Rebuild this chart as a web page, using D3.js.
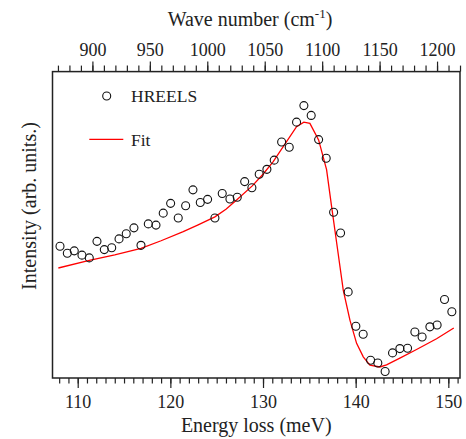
<!DOCTYPE html>
<html>
<head>
<meta charset="utf-8">
<script src="https://cdn.jsdelivr.net/npm/d3@7"></script>
<style>
  body { margin: 0; background: #fff; }
  svg text { font-family: 'Liberation Serif', Tinos, 'Times New Roman', Times, 'DejaVu Serif', serif !important; }
</style>
</head>
<body>
<svg id="chart" width="466" height="439"></svg>
<script>
// HREELS data points (energy loss in meV, intensity in arb. units)
const ENERGY = [108.09, 108.88, 109.63, 110.46, 111.25, 112.08, 112.87, 113.67, 114.46, 115.24,
  116.07, 116.83, 117.62, 118.45, 119.23, 120.03, 120.85, 121.65, 122.44, 123.23,
  124.02, 124.81, 125.60, 126.43, 127.22, 128.02, 128.80, 129.59, 130.42, 131.21,
  132.01, 132.83, 133.62, 134.41, 135.20, 136.00, 136.82, 137.62, 138.37, 139.19,
  140.02, 140.81, 141.61, 142.39, 143.18, 143.98, 144.77, 145.60, 146.39, 147.17,
  148.01, 148.79, 149.59, 150.38]
const INTENSITY = [43.0, 40.7, 41.5, 40.1, 39.2, 44.6, 41.9, 42.5, 45.4, 47.1,
  49.0, 43.3, 50.3, 49.9, 53.8, 57.0, 52.2, 56.2, 61.4, 57.3,
  58.3, 52.2, 60.2, 58.4, 59.0, 64.1, 62.1, 66.5, 68.1, 71.1,
  77.0, 75.3, 83.5, 88.9, 85.7, 77.8, 71.7, 54.1, 47.3, 28.1,
  16.9, 14.3, 5.8, 4.9, 2.1, 8.2, 9.6, 9.7, 15.0, 13.4,
  16.7, 17.3, 25.6, 21.6]

// fit curve
const FIT_ENERGY = [107.91, 111.25, 114.0, 116.83, 119.0, 121.39, 123.0, 124.81, 126.0, 127.15,
  128.84, 130.0, 131.10, 133.62, 134.41, 135.06, 136.00, 136.86, 137.40, 137.94,
  138.66, 139.38, 140.10, 140.82, 141.54, 142.61, 143.33, 144.77, 146.57, 148.73, 150.59]
const FIT_INTENSITY = [35.9, 38.4, 40.2, 42.3, 44.8, 47.8, 50.0, 52.6, 55.1, 58.1,
  62.7, 66.5, 70.6, 82.0, 83.5, 83.1, 77.7, 68.0, 56.0, 44.3,
  28.7, 18.9, 11.3, 6.9, 4.2, 3.6, 4.3, 6.5, 9.3, 12.8, 16.3]

const BOTTOM_TICKS = [110, 120, 130, 140, 150]
const TOP_TICKS = [900, 950, 1000, 1050, 1100, 1150, 1200]
const MEV_TO_CM = 8.0655

const svg = d3.select("#chart")
const LEFT = 52.5, RIGHT = 460, TOP = 71.6, BOTTOM = 378

const X_SCALE = d3.scaleLinear().domain([107.28, 151.26]).range([LEFT, RIGHT])
const X_TOP = d3.scaleLinear().domain([107.28 * MEV_TO_CM, 151.26 * MEV_TO_CM]).range([LEFT, RIGHT])
const Y_SCALE = d3.scaleLinear().domain([0, 100]).range([BOTTOM, TOP])

// bottom axis, minor ticks every 1 meV
svg.append("g")
    .attr("transform", `translate(0, ${BOTTOM})`)
    .call(d3.axisBottom(X_SCALE).tickValues(d3.range(108, 152, 1)).tickSize(5.5).tickFormat(""))
    .call(g => g.select(".domain").remove())
svg.append("g")
    .attr("transform", `translate(0, ${BOTTOM})`)
    .call(d3.axisBottom(X_SCALE).tickValues(BOTTOM_TICKS).tickSize(10).tickPadding(7).tickFormat(d3.format("d")))
    .call(g => g.select(".domain").remove())
    .call(g => g.selectAll("text").attr("font-size", 18).attr("fill", "#222"))

// top axis, minor ticks every 10 cm-1
svg.append("g")
    .attr("transform", `translate(0, ${TOP})`)
    .call(d3.axisTop(X_TOP).tickValues(d3.range(870, 1230, 10)).tickSize(6).tickFormat(""))
    .call(g => g.select(".domain").remove())
svg.append("g")
    .attr("transform", `translate(0, ${TOP})`)
    .call(d3.axisTop(X_TOP).tickValues(TOP_TICKS).tickSize(10).tickPadding(6).tickFormat(d3.format("d")))
    .call(g => g.select(".domain").remove())
    .call(g => g.selectAll("text").attr("font-size", 18).attr("fill", "#222"))

svg.selectAll(".tick line").attr("stroke", "#222").attr("stroke-width", 1.2)

// frame
svg.append("rect")
    .attr("x", LEFT).attr("y", TOP)
    .attr("width", RIGHT - LEFT).attr("height", BOTTOM - TOP)
    .attr("fill", "none").attr("stroke", "#222").attr("stroke-width", 1.5)

// fit line
const line = d3.line()
    .x((d, i) => X_SCALE(FIT_ENERGY[i]))
    .y(d => Y_SCALE(d))
svg.append("path")
    .datum(FIT_INTENSITY)
    .attr("d", line)
    .attr("fill", "none")
    .attr("stroke", "#f00")
    .attr("stroke-width", 1.3)

// data points
svg.append("g").selectAll("circle")
    .data(INTENSITY)
    .join("circle")
    .attr("cx", (d, i) => X_SCALE(ENERGY[i]))
    .attr("cy", d => Y_SCALE(d))
    .attr("r", 4)
    .attr("fill", "none")
    .attr("stroke", "#111")
    .attr("stroke-width", 1.1)

// legend
svg.append("circle").attr("cx", 106.7).attr("cy", 96).attr("r", 4)
    .attr("fill", "none").attr("stroke", "#111").attr("stroke-width", 1.1)
svg.append("text").attr("x", 131).attr("y", 102).attr("font-size", 17.5).attr("fill", "#222").text("HREELS")
svg.append("line").attr("x1", 89.3).attr("x2", 123.3).attr("y1", 139.3).attr("y2", 139.3)
    .attr("stroke", "#f00").attr("stroke-width", 1.3)
svg.append("text").attr("x", 131).attr("y", 145.5).attr("font-size", 17.5).attr("fill", "#222").text("Fit")

// axis titles
svg.append("text")
    .attr("x", (LEFT + RIGHT) / 2).attr("y", 431.5)
    .attr("text-anchor", "middle").attr("font-size", 20).attr("fill", "#222")
    .text("Energy loss (meV)")

const topTitle = svg.append("text")
    .attr("x", 250).attr("y", 26)
    .attr("text-anchor", "middle").attr("font-size", 20).attr("fill", "#222")
topTitle.append("tspan").text("Wave number (cm")
topTitle.append("tspan").attr("font-size", 13).attr("dy", -8).text("-1")
topTitle.append("tspan").attr("dy", 8).text(")")

svg.append("text")
    .attr("transform", "translate(36, 206) rotate(-90)")
    .attr("text-anchor", "middle").attr("font-size", 20).attr("fill", "#222")
    .text("Intensity (arb. units.)")
</script>
</body>
</html>
